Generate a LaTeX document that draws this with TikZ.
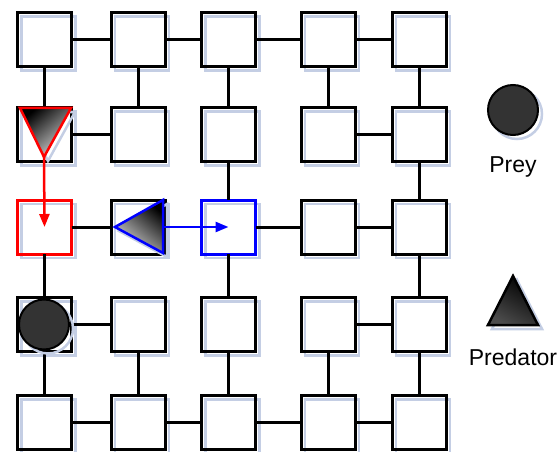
\documentclass[tikz,border=0pt]{standalone}
\usepackage{fontspec}
\setmainfont{Liberation Sans}
\usepackage{tikz}
\usetikzlibrary{arrows.meta,positioning,shadows}
\definecolor{myred}{RGB}{255,0,0}
\definecolor{myblue}{RGB}{0,0,255}
\definecolor{mygray}{RGB}{51,51,51}
\definecolor{myshadow}{RGB}{196,206,228}
\tikzset{
  softshadow/.style={copy shadow={shadow xshift=4pt, shadow yshift=-4pt, draw=myshadow, fill=none, opacity=1, line width=2.5pt}}
}

\begin{document}
\begin{tikzpicture}[x=1pt, y=-1pt]
    \tikzstyle{cell}=[draw, line width=3pt, minimum size=54pt, inner sep=0pt, outer sep=0pt, softshadow]
    \tikzstyle{link}=[line width=3pt]
    \tikzstyle{prey}=[circle, draw, fill=mygray, line width=2pt, minimum size=50pt, inner sep=0pt, softshadow]
    \tikzstyle{hunter}=[line width=2.5pt, line join=miter, top color=black, bottom color=gray!30, softshadow]
    \tikzstyle{move}=[line width=2.5pt, -{Triangle[length=13pt,width=10pt]}]
    \tikzstyle{legend}=[font=\fontsize{23}{28}\selectfont, inner sep=0pt, anchor=base]
    \useasboundingbox (0,0) rectangle (560,452);
    % grid of cells
    \foreach \r/\y in {1/39.5,2/134.5,3/227,4/324.5,5/422.5}
      \foreach \c/\x in {1/44.5,2/138,3/228.5,4/328,5/419}
        \node[cell] (c\r\c) at (\x,\y) {};
    \draw[myred, line width=3pt] (c31.north west) rectangle (c31.south east);
    \draw[myblue, line width=3pt] (c33.north west) rectangle (c33.south east);
    % horizontal links
    \foreach \r/\c/\n in {1/1/2,1/2/3,1/3/4,1/4/5,2/1/2,2/4/5,3/1/2,3/3/4,3/4/5,4/1/2,4/4/5,5/1/2,5/2/3,5/3/4,5/4/5}
      \draw[link] (c\r\c) -- (c\r\n);
    % vertical links
    \foreach \r/\n/\c in {1/2/1,1/2/2,1/2/3,1/2/4,1/2/5,2/3/3,2/3/5,3/4/1,3/4/3,3/4/5,4/5/1,4/5/2,4/5/3,4/5/4,4/5/5}
      \draw[link] (c\r\c) -- (c\n\c);
    % agents
    \node[prey] (prey) at (44,324.5) {};
    \path[hunter, draw=myred, shading angle=40] (20,108) -- (71,108) -- (44,157) coordinate (tipA) -- cycle;
    \path[hunter, draw=myblue, shading angle=-40] (163,200) -- (163,253) -- (115,227) -- cycle;
    \coordinate (tipB) at (163,227);
    \draw[move, myred] (tipA) -- (c31.center);
    \draw[move, myblue] (tipB) -- (c33.center);
    % legend
    \node[prey] (preyKey) at (513,110) {};
    \node[legend] (preyLbl) at (513,172) {Prey};
    \path[hunter, draw=black, bottom color=black!70, shading angle=-30] (513,276) -- (538,325) -- (488,325) -- cycle;
    \node[legend] (hunterLbl) at (513,365) {Predator};
\end{tikzpicture}
\end{document}
